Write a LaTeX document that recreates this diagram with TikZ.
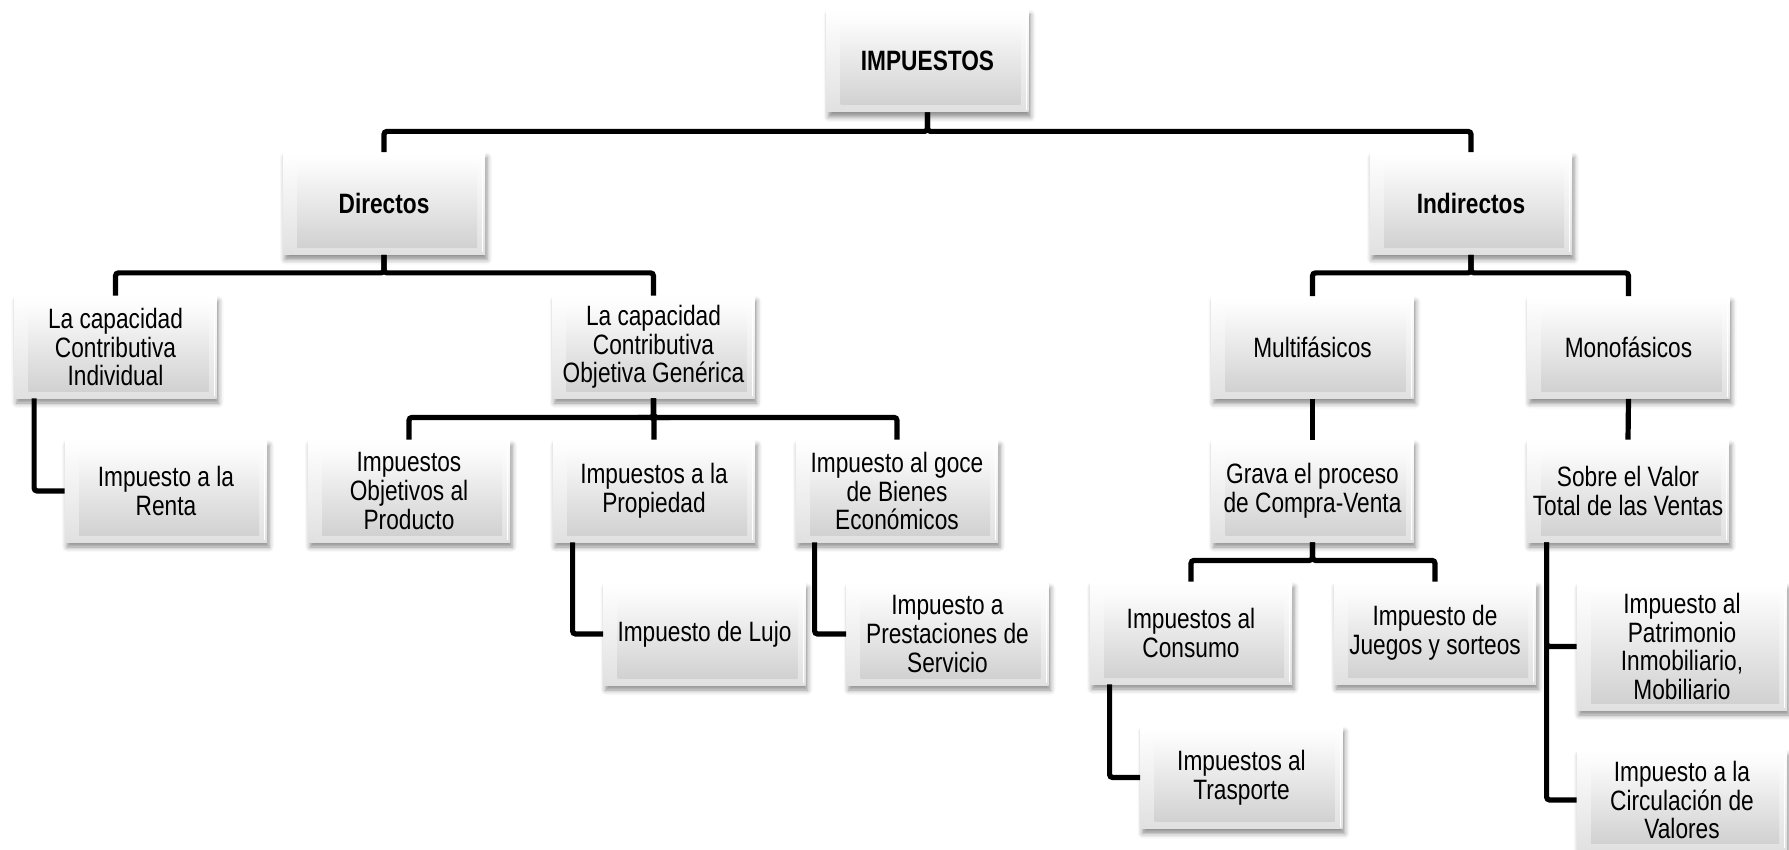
\documentclass[tikz,border=0pt]{standalone}
\usepackage{fontspec}
\setmainfont[FakeStretch=0.81]{Liberation Sans}
\usetikzlibrary{shadows.blur}
\begin{document}
\begin{tikzpicture}[x=0.5pt,y=-0.5pt,
  bx/.style={rectangle, inner sep=0pt, minimum width=101pt, minimum height=51pt,
    align=center, font=\fontsize{14}{14.3}\selectfont, text=black,
    blur shadow={shadow xshift=1pt, shadow yshift=-2.5pt, shadow blur radius=2.5pt, shadow opacity=45},
    path picture={
      \path (path picture bounding box.north west) coordinate (pnw)
            (path picture bounding box.south east) coordinate (pse);
      \shade[top color=white, bottom color=gray!24] (pnw) rectangle (pse);
      \shade[top color=gray!3, bottom color=gray!36] ([shift={(14,12)}]pnw) rectangle ([shift={(-8,-7)}]pse);
      \draw[white, line width=0.5pt] ([shift={(-2.5,2)}]pse |- pnw) -- ([shift={(-2.5,-2)}]pse);
    }},
  bold/.style={font=\fontsize{14}{14.3}\selectfont\bfseries},
  conn/.style={line width=2.6pt, black, rounded corners=1.5pt}]
\useasboundingbox (0,0) rectangle (1789,850);

\node[bx,bold] (imp) at (927.5,61) {IMPUESTOS};
\node[bx,bold] (dir) at (384,203.5) {Directos};
\node[bx,bold] (ind) at (1471,203.5) {Indirectos};
\node[bx] (ci) at (115.5,347) {La capacidad\\Contributiva\\Individual};
\node[bx] (og) at (653.5,347) {La capacidad\\Contributiva\\Objetiva Genérica};
\node[bx] (mul) at (1312.5,347.5) {Multifásicos};
\node[bx] (mon) at (1628.5,347.5) {Monofásicos};
\node[bx] (ren) at (166,491) {Impuesto a la\\Renta};
\node[bx] (pro) at (409,491) {Impuestos\\Objetivos al\\Producto};
\node[bx] (prop) at (654,491) {Impuestos a la\\Propiedad};
\node[bx] (goce) at (897,491) {Impuesto al goce\\de Bienes\\Económicos};
\node[bx] (grav) at (1312.5,491) {Grava el proceso\\de Compra-Venta};
\node[bx] (sob) at (1628,491) {Sobre el Valor\\Total de las Ventas};
\node[bx] (luj) at (704.5,634) {Impuesto de Lujo};
\node[bx] (pres) at (947.5,634) {Impuesto a\\Prestaciones de\\Servicio};
\node[bx] (cons) at (1191,633) {Impuestos al\\Consumo};
\node[bx] (jue) at (1435,633) {Impuesto de\\Juegos y sorteos};
\node[bx] (tras) at (1241.5,777.5) {Impuestos al\\Trasporte};
\node[bx, minimum width=105pt, minimum height=63.5pt] (pat) at (1682,646.5) {Impuesto al\\Patrimonio\\Inmobiliario,\\Mobiliario};
\node[bx, minimum width=105pt, minimum height=50pt] (circ) at (1682,800) {Impuesto a la\\Circulación de\\Valores};

\draw[conn] (imp.south) -- ++(0,19) -| (dir.north);
\draw[conn] (imp.south) -- ++(0,19) -| (ind.north);
\draw[conn] (dir.south) -- ++(0,18) -| (ci.north);
\draw[conn] (dir.south) -- ++(0,18) -| (og.north);
\draw[conn] (og.south) -- ++(0,19) -| (pro.north);
\draw[conn] (og.south) -- ++(0,19) -| (prop.north);
\draw[conn] (og.south) -- ++(0,19) -| (goce.north);
\draw[conn] (ind.south) -- ++(0,18) -| (mul.north);
\draw[conn] (ind.south) -- ++(0,18) -| (mon.north);
\draw[conn] (mul.south) -- (grav.north);
\draw[conn] (mon.south) -- (sob.north);
\draw[conn] (grav.south) -- ++(0,18) -| (cons.north);
\draw[conn] (grav.south) -- ++(0,18) -| (jue.north);
\draw[conn] ([xshift=10pt]ci.south west) |- (ren.west);
\draw[conn] ([xshift=10pt]prop.south west) |- (luj.west);
\draw[conn] ([xshift=9.5pt]goce.south west) |- (pres.west);
\draw[conn] ([xshift=10pt]cons.south west) |- (tras.west);
\draw[conn] ([xshift=10pt]sob.south west) |- (pat.west);
\draw[conn] ([xshift=10pt]sob.south west) |- (circ.west);
\end{tikzpicture}
\end{document}
